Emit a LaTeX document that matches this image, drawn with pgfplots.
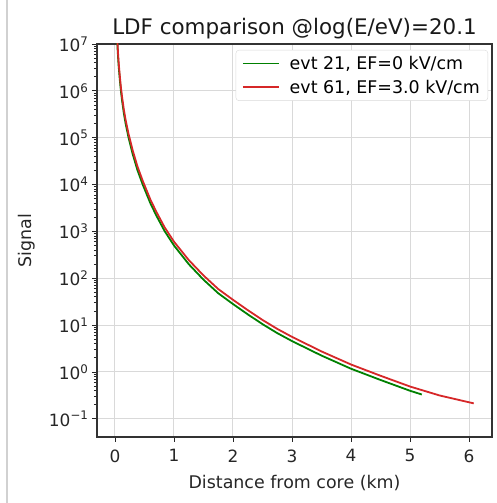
\documentclass[border=0pt]{standalone}
\usepackage{pgfplots}
\pgfplotsset{compat=1.18}
\usepackage{fontspec}
\setmainfont{DejaVu Sans}
\definecolor{mgreen}{HTML}{008000}
\definecolor{mred}{HTML}{D62728}
\definecolor{gridc}{HTML}{D9D9D9}
\begin{document}
\begin{tikzpicture}[x=1bp,y=1bp]
\useasboundingbox (-97,-66) rectangle (400,437);
\draw[black!18, line width=1.5bp] (-90,-66) -- (-90,437);
\begin{axis}[
  at={(0,0)}, anchor=south west,
  scale only axis, width=395bp, height=393bp,
  ymode=log,
  xmin=-0.305, xmax=6.39,
  ymin=0.041, ymax=1e7,
  xtick={0,1,2,3,4,5,6},
  ytick={0.1,1,10,100,1000,10000,100000,1000000,10000000},
  yticklabels={10\textsuperscript{\char"2212 1},10\textsuperscript{0},10\textsuperscript{1},10\textsuperscript{2},10\textsuperscript{3},10\textsuperscript{4},10\textsuperscript{5},10\textsuperscript{6},10\textsuperscript{7}},
  /pgf/number format/assume math mode=true,
  xtick pos=left, ytick pos=left,
  tick align=outside,
  major tick length=5bp, minor tick length=3bp,
  tick style={black!85, line width=0.9bp},
  grid=major,
  major grid style={gridc, line width=1bp},
  axis line style={black!80, line width=1.2bp},
  tick label style={font=\fontsize{17}{19}\selectfont, text=black!85},
  xticklabel style={yshift=-4bp},
  xlabel={Distance from core (km)},
  ylabel={Signal},
  label style={font=\fontsize{17.5}{20}\selectfont, text=black!85},
  xlabel style={yshift=-6bp},
  ylabel style={yshift=7bp},
  title={LDF comparison @log(E/eV)=20.1},
  title style={font=\fontsize{21.5}{24}\selectfont, text=black!90, yshift=-4bp},
  legend style={at={(1,1)}, anchor=north east, xshift=-4bp, yshift=-6bp,
    draw=black!15, rounded corners=3bp, fill=white,
    font=\fontsize{17.5}{20}\selectfont, inner xsep=6bp, inner ysep=4bp, row sep=5bp},
  legend cell align=left,
  clip=true,
]
\addplot[mgreen, line width=1.8bp, legend image code/.code={\draw[color=mgreen, line width=1.8bp] (0bp,0bp); \draw[color=mgreen, line width=1.8bp, sharp corners] (0bp,0bp) -- (36bp,0bp); \path (44bp,0bp);}] table {
x y
0.030 2.04e7
0.035 1.38e7
0.040 1.0e7
0.050 5.75e6
0.060 3.63e6
0.080 1.82e6
0.100 1.0e6
0.120 6.17e5
0.150 3.31e5
0.180 2.0e5
0.230 1.0e5
0.300 4.47e4
0.380 2.04e4
0.470 1.0e4
0.600 3981
0.700 2188
0.840 1023
1.000 501
1.250 200
1.500 93.3
1.750 47.9
2.000 28.2
2.250 17.0
2.500 10.5
2.750 6.76
3.000 4.57
3.500 2.24
4.000 1.175
4.500 0.676
5.000 0.398
5.200 0.331
};
\addlegendentry{evt 21, EF=0 kV/cm}
\addplot[mred, line width=1.8bp, legend image code/.code={\draw[color=mred, line width=1.8bp] (0bp,0bp); \draw[color=mred, line width=1.8bp, sharp corners] (0bp,0bp) -- (36bp,0bp); \path (44bp,0bp);}] table {
x y
0.030 2.45e7
0.035 1.66e7
0.040 1.2e7
0.050 6.91e6
0.060 4.36e6
0.080 2.19e6
0.100 1.2e6
0.120 7.41e5
0.150 3.98e5
0.180 2.4e5
0.230 1.2e5
0.300 5.37e4
0.380 2.45e4
0.470 1.2e4
0.600 4786
0.700 2630
0.840 1230
1.000 603
1.250 245
1.500 114.8
1.750 58.9
2.000 34.7
2.250 20.9
2.500 12.9
2.750 8.32
3.000 5.62
3.500 2.75
4.000 1.445
4.500 0.832
5.000 0.490
5.500 0.316
6.080 0.214
};
\addlegendentry{evt 61, EF=3.0 kV/cm}
\end{axis}
\end{tikzpicture}
\end{document}
